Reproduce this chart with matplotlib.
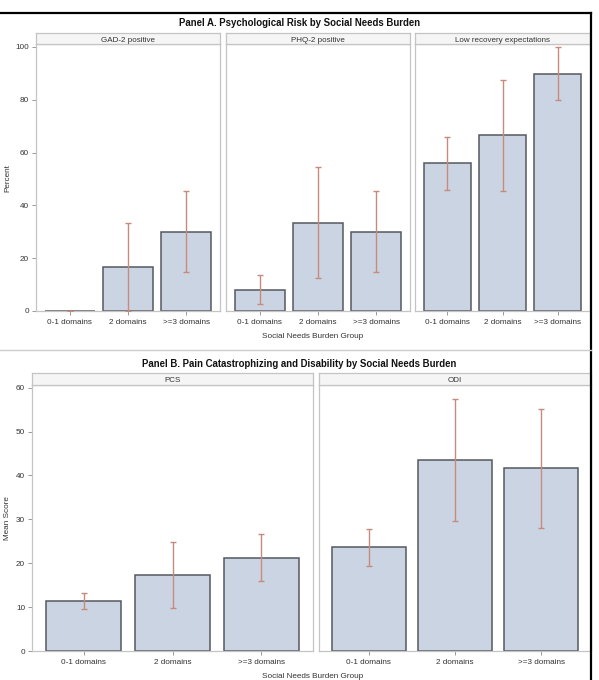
import matplotlib
matplotlib.use("Agg")
import matplotlib.pyplot as plt
from matplotlib.lines import Line2D

plt.rcParams["font.family"] = ["Liberation Sans", "DejaVu Sans"]

W, H = 599, 680

categories = ["0-1 domains", "2 domains", ">=3 domains"]

# Panel A: percent, lower CI, upper CI
gad_val = [0.0, 16.7, 30.0]
gad_lo = [0.0, 0.0, 14.8]
gad_hi = [0.0, 33.4, 45.3]

phq_val = [8.1, 33.3, 30.0]
phq_lo = [2.5, 12.4, 14.8]
phq_hi = [13.5, 54.4, 45.3]

rec_val = [55.9, 66.5, 89.9]
rec_lo = [45.8, 45.5, 79.9]
rec_hi = [66.0, 87.6, 99.9]

# Panel B: mean score, lower CI, upper CI
pcs_val = [11.3, 17.3, 21.3]
pcs_lo = [9.6, 9.9, 16.0]
pcs_hi = [13.2, 24.9, 26.7]

odi_val = [23.6, 43.6, 41.6]
odi_lo = [19.3, 29.7, 28.0]
odi_hi = [27.9, 57.4, 55.1]

panelA = [("GAD-2 positive", gad_val, gad_lo, gad_hi),
          ("PHQ-2 positive", phq_val, phq_lo, phq_hi),
          ("Low recovery expectations", rec_val, rec_lo, rec_hi)]
panelB = [("PCS", pcs_val, pcs_lo, pcs_hi),
          ("ODI", odi_val, odi_lo, odi_hi)]

BAR = "#cbd4e3"
EDGE = "#55595e"
ERR = "#c68b7b"
SPINE = "#c4c4c4"
TXT = "#333333"

fig = plt.figure(figsize=(W / 100, H / 100), dpi=100)


def rect(l, t, r, b):
    return [l / W, 1 - b / H, (r - l) / W, (b - t) / H]


def draw_panel(x_ranges, top, bottom, strip_top, ymax, yticks, data, show_y):
    axes = []
    for i, ((l, r), (name, vals, lo, hi)) in enumerate(zip(x_ranges, data)):
        ax = fig.add_axes(rect(l, top, r, bottom))
        x = list(range(len(categories)))
        ax.bar(x, vals, width=0.85, color=BAR, edgecolor=EDGE, linewidth=1.1, zorder=2)
        yerr = [[v - a for v, a in zip(vals, lo)], [b - v for v, b in zip(vals, hi)]]
        ax.errorbar(x, vals, yerr=yerr, fmt="none", ecolor=ERR, elinewidth=1.0,
                    capsize=2.5, capthick=1.0, zorder=3)
        ax.set_xlim(-0.58, 2.58)
        ax.set_ylim(0, ymax)
        ax.set_xticks(x)
        ax.set_xticklabels(categories, fontsize=5.9, color=TXT)
        ax.tick_params(axis="x", length=3, width=0.6, color="#888888", pad=3)
        if i == 0 and show_y:
            ax.set_yticks(yticks)
            ax.set_yticklabels([str(t) for t in yticks], fontsize=5.9, color=TXT)
            ax.tick_params(axis="y", length=3, width=0.6, color="#888888", pad=2)
        else:
            ax.set_yticks([])
        for s in ax.spines.values():
            s.set_color(SPINE)
            s.set_linewidth(0.9)
        # strip header
        sax = fig.add_axes(rect(l, strip_top, r, top))
        sax.set_facecolor("#f5f5f5")
        sax.set_xticks([])
        sax.set_yticks([])
        for s in sax.spines.values():
            s.set_color(SPINE)
            s.set_linewidth(0.9)
        sax.text(0.5, 0.45, name, ha="center", va="center_baseline", fontsize=5.8,
                 color=TXT, transform=sax.transAxes)
        axes.append(ax)
    return axes


# Panel A
axA = draw_panel([(36, 220), (226, 410), (415, 590)], 44, 311, 33, 101.1,
                 [0, 20, 40, 60, 80, 100], panelA, True)
fig.text(300 / W, 1 - 23.5 / H, "Panel A. Psychological Risk by Social Needs Burden",
         ha="center", va="center", fontsize=6.9, fontweight="bold", color="#111111")
fig.text(313 / W, 1 - 337 / H, "Social Needs Burden Group", ha="center", va="center",
         fontsize=5.9, color=TXT)
fig.text(8 / W, 1 - 178 / H, "Percent", ha="center", va="center", rotation=90,
         fontsize=5.9, color=TXT)

# Panel B
axB = draw_panel([(32, 313), (319, 591)], 385, 651, 373, 60.6,
                 [0, 10, 20, 30, 40, 50, 60], panelB, True)
fig.text(299 / W, 1 - 364 / H,
         "Panel B. Pain Catastrophizing and Disability by Social Needs Burden",
         ha="center", va="center", fontsize=6.9, fontweight="bold", color="#111111")
fig.text(313 / W, 1 - 676 / H, "Social Needs Burden Group", ha="center", va="center",
         fontsize=5.9, color=TXT)
fig.text(8 / W, 1 - 518 / H, "Mean Score", ha="center", va="center", rotation=90,
         fontsize=5.9, color=TXT)

# frame lines
fig.add_artist(Line2D([0, 591 / W], [1 - 13 / H, 1 - 13 / H], color="black", lw=1.6))
fig.add_artist(Line2D([591 / W, 591 / W], [1 - 13 / H, 0], color="black", lw=1.6))
fig.add_artist(Line2D([0, 591 / W], [1 - 350 / H, 1 - 350 / H], color="#cccccc", lw=1.0))

fig.savefig("out.png", dpi=100, facecolor="white")
